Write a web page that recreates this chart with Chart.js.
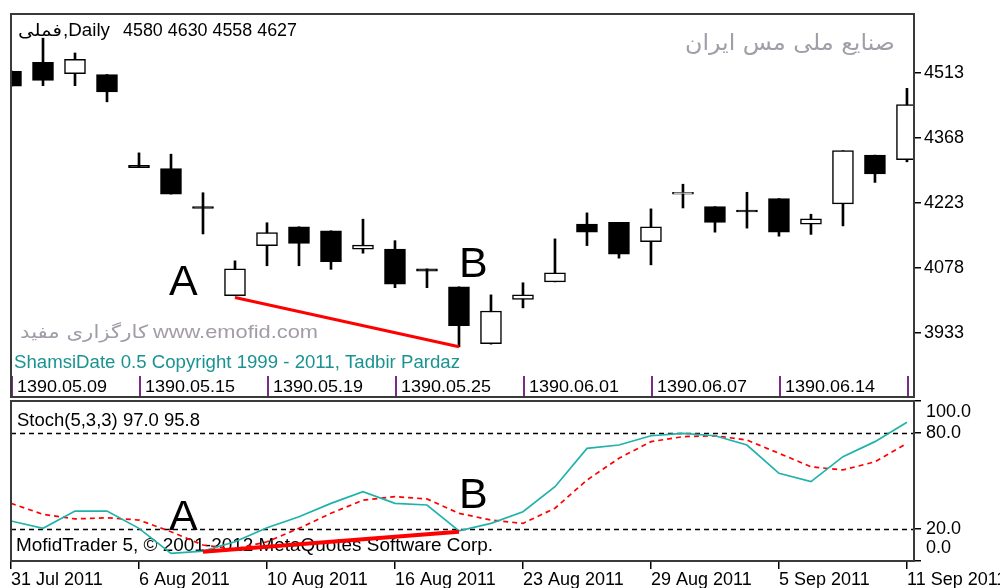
<!DOCTYPE html>
<html>
<head>
<meta charset="utf-8">
<script src="https://cdn.jsdelivr.net/npm/chart.js@4.4.1/dist/chart.umd.min.js"></script>
<style>
  html, body { margin: 0; padding: 0; background: #fff; }
  #wrap { position: relative; width: 1000px; height: 588px; }
  #wrap canvas { position: absolute; left: 0; top: 0; }
</style>
</head>
<body>
<div id="wrap">
  <canvas id="priceChart" width="1000" height="588"></canvas>
  <canvas id="stochChart" width="1000" height="588"></canvas>
</div>
<script>
// daily candles, 31 Jul 2011 .. 11 Sep 2011
const opens  = [4517, 4537, 4512, 4510, 4307, 4300, 4215, 4016, 4128, 4170, 4161, 4120, 4120, 4076, 4036,
                3909, 4008, 4047, 4176, 4180, 4137, 4243, 4215, 4207, 4233, 4176, 4221, 4330, 4320];
const highs  = [4519, 4591, 4558, 4510, 4335, 4332, 4246, 4094, 4179, 4170, 4161, 4187, 4139, 4076, 4036,
                4018, 4045, 4143, 4201, 4180, 4210, 4265, 4215, 4247, 4233, 4198, 4340, 4330, 4479];
const lows   = [4483, 4485, 4485, 4449, 4302, 4243, 4154, 4016, 4083, 4083, 4075, 4111, 4034, 4034, 3902,
                3908, 3989, 4047, 4128, 4100, 4085, 4212, 4158, 4167, 4149, 4153, 4172, 4269, 4315];
const closes = [4484, 4497, 4544, 4471, 4302, 4243, 4211, 4076, 4157, 4133, 4092, 4129, 4042, 4071, 3949,
                3982, 4018, 4067, 4158, 4109, 4170, 4247, 4180, 4203, 4158, 4188, 4340, 4288, 4443];

// Stoch(5,3,3)
const stochMain   = [25, 20.4, 31.2, 31.2, 20.4, 4.8, 6.2, 12, 20.8, 27.7, 36, 43.3, 36, 35, 18.8,
                     23.5, 30.8, 46.4, 70.4, 72.5, 78.3, 79.8, 78.3, 72.5, 54.8, 49.6, 65.2, 74.6, 86.7];
const stochSignal = [36, 29.2, 26.3, 27, 25.6, 18.3, 10, 7.5, 12, 20.4, 29.8, 38, 40.2, 38.8, 29.8,
                     25.6, 23.5, 33, 50.6, 64.2, 74.6, 77.7, 78.3, 75.6, 67.3, 58.9, 56.9, 62, 73.5];

const priceTicks = [3933, 4078, 4223, 4368, 4513];
const stochTicks = [0, 20, 80, 100];
const stochLevels = [20, 80];

const dateTickBars = [0, 4, 8, 12, 16, 20, 24, 28];
const dateLabels = ['31 Jul 2011', '6 Aug 2011', '10 Aug 2011', '16 Aug 2011',
                    '23 Aug 2011', '29 Aug 2011', '5 Sep 2011', '11 Sep 2011'];
const shamsiLabels = ['1390.05.09', '1390.05.15', '1390.05.19', '1390.05.25',
                      '1390.06.01', '1390.06.07', '1390.06.14', ''];

// divergence lines A -> B
const priceTrend = [{ x: 7, y: 4012 }, { x: 14, y: 3902 }];
const stochTrend = [{ x: 6, y: 5.8 }, { x: 14, y: 18.3 }];

const FONT = '"Liberation Sans", Arial, sans-serif';
const FONT_FA = '"DejaVu Sans", sans-serif';
const X_MAX = 28.22;

Chart.defaults.font.family = FONT;
Chart.defaults.font.size = 18;
Chart.defaults.color = '#000';

// the terminal font is wider than Arial, so stretch text to the width seen in the screenshot
function fillFit(ctx, text, x, y, width, align) {
  const w = ctx.measureText(text).width;
  ctx.save();
  ctx.translate(x, y);
  ctx.scale(width / w, 1);
  ctx.textAlign = align || 'left';
  ctx.fillText(text, 0, 0);
  ctx.restore();
}

function drawFrame(ctx, a) {
  ctx.save();
  ctx.strokeStyle = '#3a3a3a';
  ctx.lineWidth = 2;
  ctx.strokeRect(a.left, a.top, a.right - a.left, a.bottom - a.top);
  ctx.restore();
}

const priceDecor = {
  id: 'priceDecor',
  beforeDatasetsDraw(chart) {
    const { ctx } = chart;
    ctx.save();
    ctx.textBaseline = 'alphabetic';

    ctx.fillStyle = '#a29ba8';
    ctx.font = '18px ' + FONT_FA;
    fillFit(ctx, 'کارگزاری مفید', 148, 338, 128, 'right');
    ctx.font = '19px ' + FONT;
    fillFit(ctx, 'www.emofid.com', 153, 338, 165);

    ctx.fillStyle = '#1a9292';
    ctx.font = '17.5px ' + FONT;
    fillFit(ctx, 'ShamsiDate 0.5 Copyright 1999 - 2011, Tadbir Pardaz', 14, 368, 446);
    ctx.restore();
  },
  afterDraw(chart) {
    const { ctx, chartArea: a, scales: { x } } = chart;
    ctx.save();
    ctx.textBaseline = 'alphabetic';

    // shamsi date strip
    ctx.font = '17px ' + FONT;
    dateTickBars.forEach((b, i) => {
      const px = Math.round(x.getPixelForValue(b)) + 1;
      ctx.fillStyle = '#7d2a8c';
      ctx.fillRect(px - 1, 376, 2, a.bottom - 376);
      ctx.fillStyle = '#000';
      if (shamsiLabels[i]) fillFit(ctx, shamsiLabels[i], px + 5, 392, 90);
    });

    // header
    ctx.fillStyle = '#000';
    ctx.font = '17px ' + FONT_FA;
    fillFit(ctx, 'فملی', 18, 36, 44);
    ctx.font = '17.5px ' + FONT;
    fillFit(ctx, ',Daily', 63, 36, 47);
    fillFit(ctx, '4580 4630 4558 4627', 123, 36, 174);

    ctx.fillStyle = '#9f9fa8';
    ctx.font = '22px ' + FONT_FA;
    fillFit(ctx, 'صنایع ملی مس ایران', 895, 50, 210, 'right');

    ctx.fillStyle = '#000';
    ctx.textAlign = 'left';
    ctx.font = '43px ' + FONT;
    ctx.fillText('A', 169, 295);
    ctx.fillText('B', 459, 277);
    ctx.restore();

    drawFrame(ctx, a);
  }
};

const stochDecor = {
  id: 'stochDecor',
  beforeDatasetsDraw(chart) {
    const { ctx, chartArea: a, scales: { y } } = chart;
    ctx.save();
    ctx.strokeStyle = '#000';
    ctx.lineWidth = 1.5;
    ctx.setLineDash([5, 4]);
    stochLevels.forEach(v => {
      const py = Math.round(y.getPixelForValue(v)) + 0.5;
      ctx.beginPath();
      ctx.moveTo(a.left, py);
      ctx.lineTo(a.right, py);
      ctx.stroke();
    });
    ctx.setLineDash([]);

    ctx.fillStyle = '#000';
    ctx.textBaseline = 'alphabetic';
    ctx.font = '17.5px ' + FONT;
    fillFit(ctx, 'Stoch(5,3,3) 97.0 95.8', 17, 426, 183);
    fillFit(ctx, 'MofidTrader 5, © 2001-2012 MetaQuotes Software Corp.', 16, 551, 477);
    ctx.restore();
  },
  afterDraw(chart) {
    const { ctx, chartArea: a, scales: { y } } = chart;
    ctx.save();
    ctx.fillStyle = '#000';
    ctx.font = '43px ' + FONT;
    ctx.fillText('A', 169, 530);
    ctx.fillText('B', 459, 508);

    // value labels, kept inside the panel like the terminal does
    ctx.font = '18px ' + FONT;
    ctx.textBaseline = 'middle';
    stochTicks.forEach(v => {
      let py = y.getPixelForValue(v);
      py = Math.min(Math.max(py, a.top + 11), a.bottom - 13);
      ctx.fillText(v.toFixed(1), a.right + 12, py);
    });
    ctx.restore();

    drawFrame(ctx, a);
  }
};

const bodyFill = opens.map((o, i) => closes[i] > o ? '#ffffff' : '#000000');

new Chart(document.getElementById('priceChart'), {
  type: 'bar',
  data: {
    datasets: [
      {
        type: 'line',
        data: priceTrend,
        borderColor: '#ff0000',
        borderWidth: 3,
        pointRadius: 0,
        order: 0,
        clip: 0
      },
      {
        data: opens.map((o, i) => ({ x: i, y: [o, closes[i]] })),
        backgroundColor: bodyFill,
        borderColor: '#000',
        borderWidth: 1.5,
        borderSkipped: false,
        barThickness: 21,
        grouped: false,
        order: 1,
        clip: 0
      },
      {
        data: highs.map((h, i) => ({ x: i, y: [lows[i], h] })),
        backgroundColor: '#000',
        borderWidth: 0,
        barThickness: 2,
        grouped: false,
        order: 2,
        clip: 0
      }
    ]
  },
  options: {
    responsive: false,
    animation: false,
    events: [],
    layout: { padding: { left: 11, top: 14, right: 0, bottom: 191 } },
    plugins: { legend: { display: false }, tooltip: { enabled: false } },
    scales: {
      x: { type: 'linear', display: false, min: 0, max: X_MAX, offset: false },
      y: {
        position: 'right',
        min: 3790,
        max: 4645,
        afterBuildTicks: s => { s.ticks = priceTicks.map(v => ({ value: v })); },
        afterFit: s => { s.width = 86; s.paddingTop = 0; s.paddingBottom = 0; },
        ticks: { callback: v => String(v), padding: 3, font: { size: 18 } },
        grid: { drawOnChartArea: false, tickLength: 7, color: '#000', lineWidth: 1.5 },
        border: { display: true, color: '#2a2a2a', width: 2 }
      }
    }
  },
  plugins: [priceDecor]
});

new Chart(document.getElementById('stochChart'), {
  type: 'line',
  data: {
    datasets: [
      {
        data: stochTrend,
        borderColor: '#ff0000',
        borderWidth: 4,
        pointRadius: 0,
        order: 0
      },
      {
        data: stochMain.map((v, i) => ({ x: i, y: v })),
        borderColor: '#20b2aa',
        borderWidth: 1.7,
        pointRadius: 0,
        order: 1
      },
      {
        data: stochSignal.map((v, i) => ({ x: i, y: v })),
        borderColor: '#ff0000',
        borderWidth: 1.7,
        borderDash: [5, 4],
        pointRadius: 0,
        order: 2
      }
    ]
  },
  options: {
    responsive: false,
    animation: false,
    events: [],
    layout: { padding: { left: 11, top: 401, right: 0, bottom: 0 } },
    plugins: { legend: { display: false }, tooltip: { enabled: false } },
    scales: {
      x: {
        type: 'linear',
        min: 0,
        max: X_MAX,
        offset: false,
        afterBuildTicks: s => { s.ticks = dateTickBars.map(v => ({ value: v })); },
        afterFit: s => { s.height = 27; s.paddingLeft = 0; s.paddingRight = 0; },
        ticks: {
          callback: v => dateLabels[dateTickBars.indexOf(v)],
          autoSkip: false,
          maxRotation: 0,
          align: 'start',
          padding: 0,
          font: { size: 18 }
        },
        grid: { drawOnChartArea: false, tickLength: 8, color: '#000', lineWidth: 1.5 },
        border: { display: true, color: '#2a2a2a', width: 2 }
      },
      y: {
        position: 'right',
        min: 0,
        max: 100,
        afterBuildTicks: s => { s.ticks = stochTicks.map(v => ({ value: v })); },
        afterFit: s => { s.width = 86; s.paddingTop = 0; s.paddingBottom = 0; },
        ticks: { color: 'rgba(0,0,0,0)' },
        grid: { drawOnChartArea: false, tickLength: 7, color: '#000', lineWidth: 1.5 },
        border: { display: true, color: '#2a2a2a', width: 2 }
      }
    }
  },
  plugins: [stochDecor]
});
</script>
</body>
</html>
